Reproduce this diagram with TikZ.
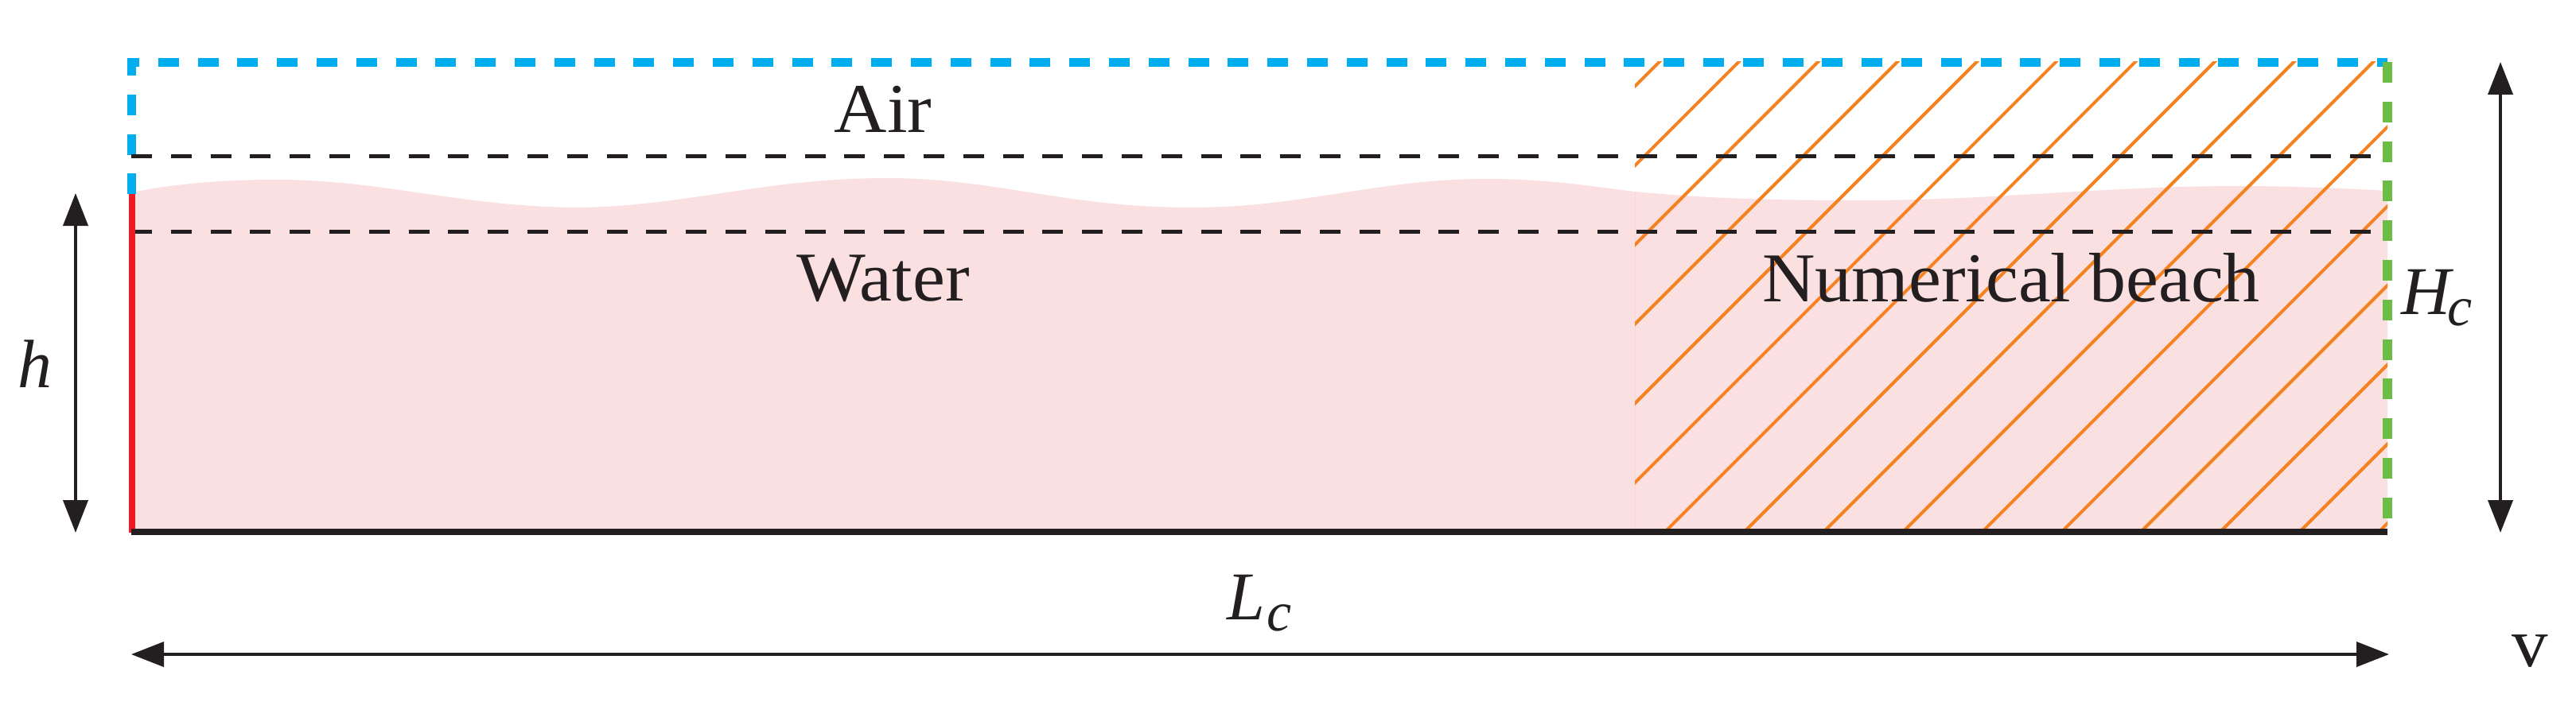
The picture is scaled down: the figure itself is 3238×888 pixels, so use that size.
\documentclass[tikz,border=0pt]{standalone}
\usepackage{fontspec}
\setmainfont{Liberation Serif}
\usetikzlibrary{arrows.meta}
\definecolor{cblue}{HTML}{00AEEF}
\definecolor{cgreen}{HTML}{6CBD45}
\definecolor{cred}{HTML}{ED1C24}
\definecolor{cink}{HTML}{231F20}
\definecolor{corange}{HTML}{F58220}
\definecolor{cwater}{HTML}{FBE0E1}
\definecolor{cseam}{HTML}{FAD6D2}
\tikzset{
  dimline/.style={draw=cink,line width=4pt,{Triangle[length=41pt,width=31pt]}-{Triangle[length=41pt,width=31pt]}},
  level/.style={draw=cink,line width=5pt,dash pattern=on 26pt off 23.8pt},
  bluebc/.style={draw=cblue,line width=11pt,dash pattern=on 26pt off 23.8pt},
  greenbc/.style={draw=cgreen,line width=11.5pt,dash pattern=on 26pt off 23.8pt},
  hatchline/.style={draw=corange,line width=4pt},
  lab/.style={text=cink,font=\fontsize{88}{88}\selectfont,inner sep=0pt,anchor=base,xscale=1.045,transform shape},
  mathlab/.style={text=cink,font=\fontsize{86}{86}\selectfont\itshape,inner sep=0pt,anchor=base},
}
\newcommand{\subc}{\raisebox{-14pt}{\fontsize{70}{70}\selectfont c}}
\begin{document}
\begin{tikzpicture}[x=1pt,y=-1pt]
\useasboundingbox (0,0) rectangle (3238,888);
\fill[cwater] (166,242) .. controls (220,231) and (280,226) .. (347,226)
  .. controls (480,226) and (580,260) .. (725,261)
  .. controls (860,260) and (960,224) .. (1115,224)
  .. controls (1250,224) and (1340,261) .. (1497,261)
  .. controls (1640,261) and (1730,225) .. (1869,225)
  .. controls (1950,225) and (2010,236) .. (2055,241)
  .. controls (2150,250) and (2230,252) .. (2344,252)
  .. controls (2500,252) and (2650,234) .. (2813,234)
  .. controls (2880,234) and (2950,237) .. (3001,240)
  -- (3001,669) -- (166,669) -- cycle;
\coordinate (s0) at (2055,241); \coordinate (s1) at (2055,665);
\draw[cseam,line width=1pt] (s0) -- (s1);
\begin{scope}
\clip (2055,78) rectangle (3001,665);
\foreach \k in {0,...,15}{
  \pgfmathsetmacro{\c}{2163.6+99.7*\k}
  \draw[hatchline] (\c-1000,1000) -- (\c,0);
}
\end{scope}
\coordinate (tl) at (165.5,78.5);
\coordinate (tr) at (3001,78.5);
\coordinate (tl0) at (160,78.5);
\coordinate (bl) at (165.5,244);
\coordinate (g0) at (3001,78);
\coordinate (g1) at (3001,665);
\draw[bluebc,dash phase=11pt] (tl0) -- (tr);
\draw[bluebc,dash phase=9.5pt] (tl) -- (bl);
\coordinate (d1a) at (165,196.5); \coordinate (d1b) at (2981,196.5);
\coordinate (d2a) at (165,291); \coordinate (d2b) at (2981,291);
\draw[level] (d1a) -- (d1b);
\draw[level] (d2a) -- (d2b);
\draw[greenbc] (g0) -- (g1);
\coordinate (r0) at (166,244); \coordinate (r1) at (166,670);
\draw[draw=cred,line width=7.6pt] (r0) -- (r1);
\coordinate (f0) at (165,669); \coordinate (f1) at (3001,669);
\draw[draw=cink,line width=8pt] (f0) -- (f1);
\coordinate (ha) at (95,243); \coordinate (hb) at (95,670);
\draw[dimline] (ha) -- (hb);
\coordinate (Ha) at (3143,78); \coordinate (Hb) at (3143,670);
\draw[dimline] (Ha) -- (Hb);
\coordinate (La) at (165,823); \coordinate (Lb) at (3003,823);
\draw[dimline] (La) -- (Lb);
\node[lab] (air) at (1110,166) {Air};
\node[lab] (water) at (1110,378) {Water};
\node[lab] (beach) at (2528,379) {Numerical beach};
\node[mathlab] (h) at (44,487) {h};
\node[mathlab] (Hc) at (3063,395) {H\kern-4pt\subc};
\node[mathlab] (Lc) at (1583,779) {L\kern2pt\subc};
\node[lab,font=\fontsize{87}{87}\selectfont,xscale=1] (v) at (3180,838) {v};
\end{tikzpicture}
\end{document}
